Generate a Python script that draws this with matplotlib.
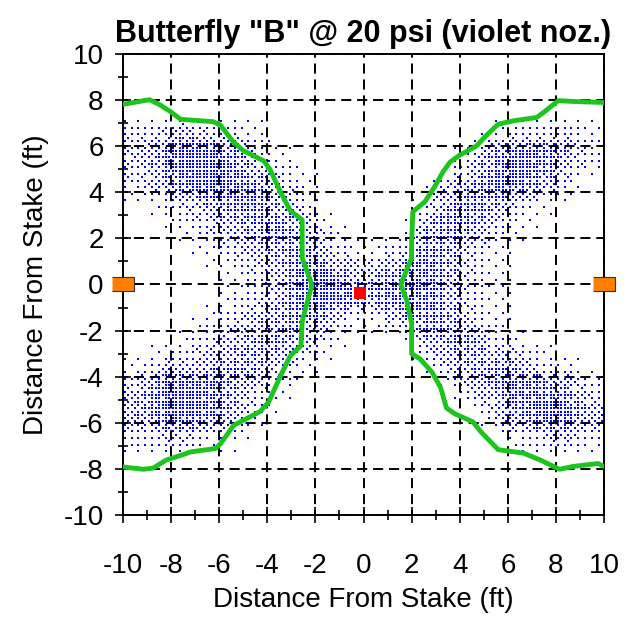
import numpy as np
import matplotlib
matplotlib.use("Agg")
import matplotlib.pyplot as plt

plt.rcParams["axes.unicode_minus"] = False

# green boundary lines (ft)
left_x = [-10.0, -8.9, -8.5, -8.05, -7.6, -6.25, -5.95, -5.4, -5.0, -4.15, -3.9, -3.45,
          -3.05, -2.55, -2.55, -2.2, -2.15, -2.3, -2.45, -2.55, -2.6, -3.05, -3.45, -3.95,
          -4.3, -4.85, -5.4, -5.95, -6.15, -7.2, -7.6, -8.2, -8.75, -9.15, -10.0]
left_y = [7.8, 8.0, 7.8, 7.5, 7.15, 7.05, 6.9, 6.15, 5.8, 5.35, 5.0, 4.0,
          3.2, 2.8, 1.15, 0.15, -0.05, -0.6, -1.2, -1.6, -2.65, -3.1, -3.95, -5.1,
          -5.5, -5.8, -6.1, -6.9, -7.1, -7.25, -7.4, -7.6, -7.95, -8.0, -7.9]
right_x = [10.0, 8.8, 8.1, 7.55, 7.2, 6.25, 5.6, 5.1, 4.7, 4.0, 3.6, 3.3, 2.95, 2.55,
           2.05, 2.0, 2.0, 1.55, 1.8, 2.0, 2.0, 2.35, 2.85, 3.2, 3.45, 3.8, 4.55, 4.9,
           5.6, 6.65, 7.35, 8.15, 8.7, 9.75, 10.0]
right_y = [7.88, 7.92, 7.96, 7.5, 7.23, 7.09, 6.94, 6.45, 6.0, 5.6, 5.3, 4.87, 4.22, 3.58,
           3.15, 1.85, 1.15, 0.0, -0.7, -1.7, -3.0, -3.22, -3.8, -4.45, -5.35, -5.6, -5.95, -6.4,
           -7.15, -7.3, -7.6, -8.0, -7.88, -7.75, -7.88]

stake_x, stake_y = [-0.15], [-0.35]
head_x, head_y = [-10, 10], [0, 0]

# droplet density (0-9) per 1 ft cell, rows from y=10 down to y=-10, cols x=-10..10
density = [
    "00000000000000000000",
    "00000000000000000000",
    "00000000000000000000",
    "23432100000000012331",
    "35886310000000268742",
    "24687531000002477520",
    "01346642000015652100",
    "00124564100046521000",
    "00012456311265310000",
    "00001247744675210000",
    "00001247876774210000",
    "00012456411465310000",
    "00124554100045521000",
    "12345531000003554210",
    "36875310000000357642",
    "47874200000000036874",
    "23321000000000002342",
    "00000000000000000000",
    "00000000000000000000",
    "00000000000000000000",
]

dens = np.array([[int(ch) for ch in row] for row in density], dtype=float) / 7.5
cell_x = np.arange(-9.5, 10, 1.0)

# lay droplets on the 1/7 ft grid, ordered dither of the (smoothed) cell density
bayer = np.array([[0, 8, 2, 10], [12, 4, 14, 6], [3, 11, 1, 9], [15, 7, 13, 5]])
step = 1 / 7
gx_all = np.arange(-10 + step / 2, 10, step)
gy_all = np.arange(10 - step / 2, -10, -step)
dx, dy = [], []
for j, y in enumerate(gy_all):
    # interpolate between cell centres
    fy = np.clip((9.5 - y), 0, 19)
    r0 = int(np.floor(fy)); r1 = min(r0 + 1, 19); ty = fy - r0
    row = dens[r0] * (1 - ty) + dens[r1] * ty
    for i, x in enumerate(gx_all):
        d = np.interp(x, cell_x, row)
        if d > (bayer[i % 4, j % 4] + 0.5) / 16:
            dx.append(x)
            dy.append(y)

font = "Liberation Sans"
fig = plt.figure(figsize=(6.26, 6.23), dpi=100)
ax = fig.add_axes([0.1965, 0.1726, 0.9649 - 0.1965, 0.9141 - 0.1726])

ax.scatter(dx, dy, s=4.3, marker="s", color="#0000ff", linewidths=0, zorder=1,
           antialiased=False)
ax.plot(left_x, left_y, color="#1ec41e", lw=3.5, solid_capstyle="round", zorder=3)
ax.plot(right_x, right_y, color="#1ec41e", lw=3.5, solid_capstyle="round", zorder=3)
ax.scatter(stake_x, stake_y, marker="s", s=70, color="#ff0000", linewidths=0, zorder=4)
rect = [(-1.5, -1), (1.5, -1), (1.5, 1), (-1.5, 1)]
ax.scatter(head_x, head_y, marker=rect, s=230, color="#ff8000", edgecolors="#333333",
           linewidths=0.8, zorder=5, clip_on=False)

ax.set_xlim(-10, 10)
ax.set_ylim(-10, 10)
ax.set_xticks(np.arange(-10, 11, 2))
ax.set_yticks(np.arange(-10, 11, 2))
ax.set_xticks(np.arange(-10, 11, 1), minor=True)
ax.set_yticks(np.arange(-10, 11, 1), minor=True)
ax.tick_params(which="major", direction="inout", length=12, width=1.2, labelsize=20)
ax.tick_params(which="minor", direction="inout", length=7, width=1.2)
ax.tick_params(axis="x", which="major", pad=21)
ax.tick_params(axis="y", which="major", pad=8)
for lab in ax.get_xticklabels() + ax.get_yticklabels():
    lab.set_fontfamily(font)

ax.grid(True, which="major", color="black", lw=1.4, linestyle=(2.6, (5.2, 3.0)))
for sp in ax.spines.values():
    sp.set_linewidth(1.4)

ax.set_xlabel("Distance From Stake (ft)", fontsize=20, fontfamily=font, labelpad=6)
ax.set_ylabel("Distance From Stake (ft)", fontsize=20, fontfamily=font, labelpad=10)
ax.set_title('Butterfly "B" @ 20 psi (violet noz.)', fontsize=22, fontweight="bold",
             fontfamily=font, pad=8)

fig.savefig("out.png", dpi=100)
